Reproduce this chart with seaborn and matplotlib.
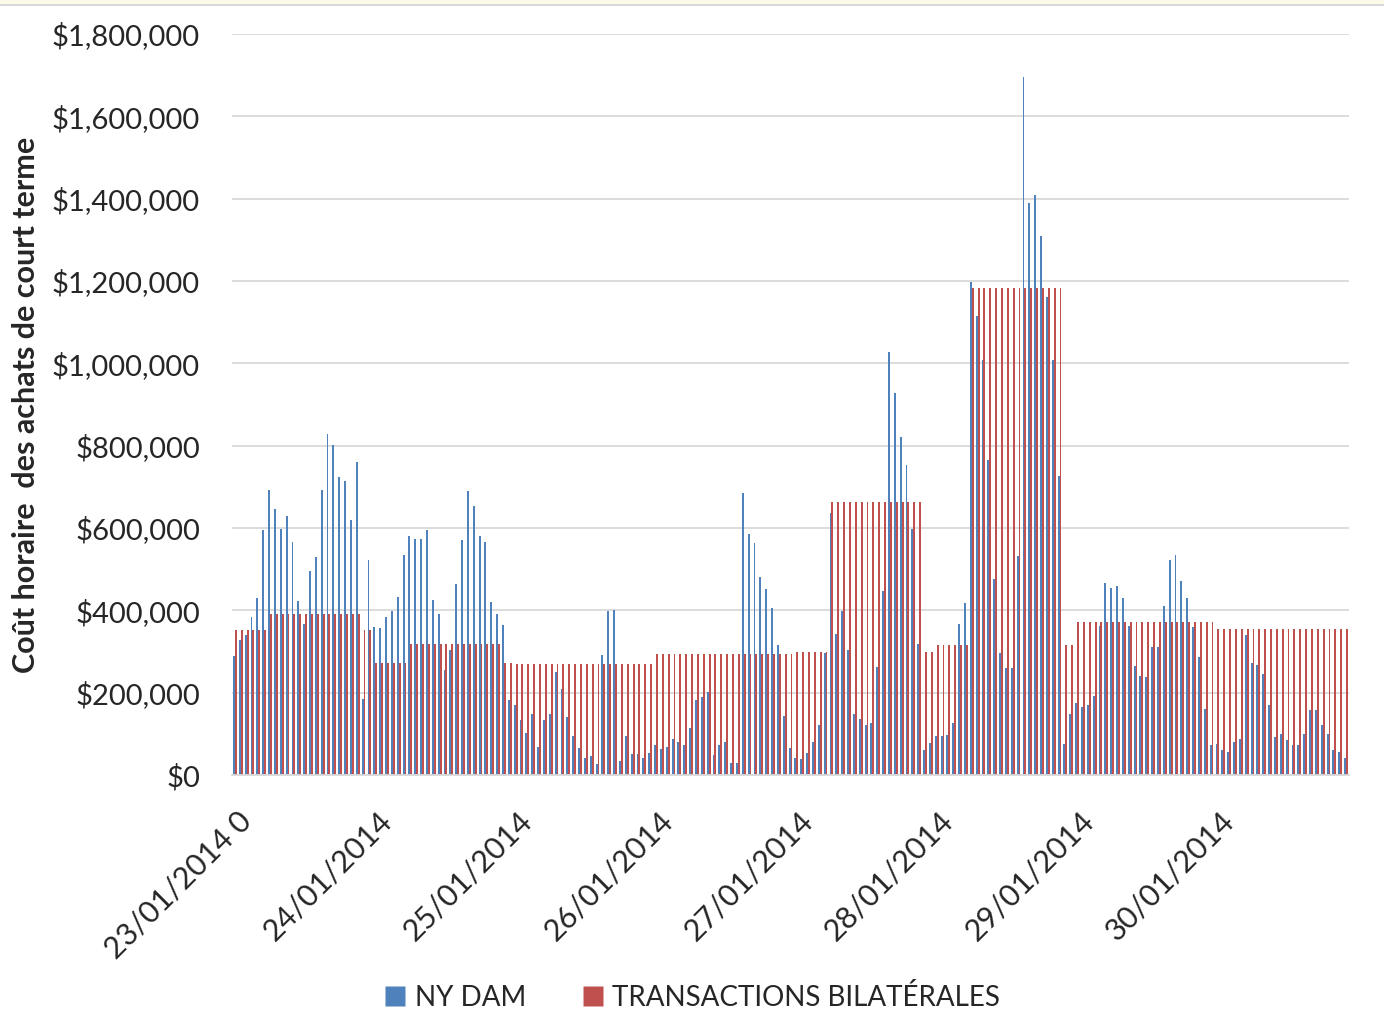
import pandas as pd
import seaborn as sns
import matplotlib.pyplot as plt
from matplotlib.ticker import FuncFormatter
from matplotlib.transforms import ScaledTranslation
from matplotlib.patches import Rectangle
from matplotlib.lines import Line2D

sns.set_style("white")
plt.rcParams['font.family'] = ['Lato', 'DejaVu Sans']

# coût horaire en milliers de $ (une valeur par heure, du 23/01 0h au 30/01 22h)
ny_dam = [
    288, 329, 340, 385, 431, 594, 692, 646, 598, 628, 567, 423, 367, 496, 530, 692, 828, 802, 725, 715, 620, 760, 185, 522,
    360, 356, 384, 398, 432, 535, 581, 573, 573, 596, 425, 391, 255, 304, 463, 570, 691, 653, 581, 566, 421, 391, 364, 182,
    171, 134, 101, 148, 68, 134, 148, 250, 209, 141, 95, 65, 41, 45, 27, 292, 398, 402, 34, 95, 50, 50, 41, 53,
    72, 64, 68, 87, 79, 72, 113, 182, 189, 201, 49, 72, 79, 30, 30, 684, 585, 563, 482, 452, 406, 315, 144, 65,
    41, 38, 53, 79, 121, 297, 637, 342, 398, 304, 148, 137, 121, 126, 262, 448, 1028, 927, 820, 752, 597, 318, 61, 78,
    94, 95, 97, 127, 367, 417, 1198, 1114, 1007, 764, 475, 296, 261, 261, 532, 1695, 1390, 1410, 1310, 1161, 1007, 726, 76, 148,
    175, 164, 169, 191, 363, 467, 455, 460, 429, 363, 264, 241, 237, 310, 310, 410, 522, 535, 471, 429, 359, 287, 161, 73,
    76, 61, 56, 80, 88, 340, 272, 267, 245, 169, 92, 100, 84, 73, 73, 100, 157, 157, 122, 100, 61, 56, 42,
]
bilaterales = [
    352, 352, 352, 352, 352, 352, 390, 390, 390, 390, 390, 390, 390, 390, 390, 390, 390, 390, 390, 390, 390, 390, 352, 352,
    273, 273, 273, 273, 273, 273, 319, 319, 319, 319, 319, 319, 319, 319, 319, 319, 319, 319, 319, 319, 319, 319, 273, 273,
    270, 270, 270, 270, 270, 270, 270, 270, 270, 270, 270, 270, 270, 270, 270, 270, 270, 270, 270, 270, 270, 270, 270, 270,
    293, 293, 293, 293, 293, 293, 293, 293, 293, 293, 293, 293, 293, 293, 293, 293, 293, 293, 293, 293, 293, 293, 293, 293,
    300, 300, 300, 300, 300, 300, 664, 664, 664, 664, 664, 664, 664, 664, 664, 664, 664, 664, 664, 664, 664, 664, 300, 300,
    317, 317, 317, 317, 317, 317, 1183, 1183, 1183, 1183, 1183, 1183, 1183, 1183, 1183, 1183, 1183, 1183, 1183, 1183, 1183, 1183, 317, 317,
    371, 371, 371, 371, 371, 371, 371, 371, 371, 371, 371, 371, 371, 371, 371, 371, 371, 371, 371, 371, 371, 371, 371, 371,
    355, 355, 355, 355, 355, 355, 355, 355, 355, 355, 355, 355, 355, 355, 355, 355, 355, 355, 355, 355, 355, 355, 355,
]
day_labels = ['23/01/2014 0', '24/01/2014', '25/01/2014', '26/01/2014',
              '27/01/2014', '28/01/2014', '29/01/2014', '30/01/2014']
series = ['NY DAM', 'TRANSACTIONS BILATÉRALES']
colors = ['#4F81BD', '#C0504D']

n = len(ny_dam)
df = pd.DataFrame({
    'heure': list(range(n)) * 2,
    'cout': [v * 1000 for v in ny_dam + bilaterales],
    'serie': [series[0]] * n + [series[1]] * n,
})

fig = plt.figure(figsize=(13.84, 10.30), dpi=100)
ax = fig.add_axes([232 / 1384, 1 - 775 / 1030, 1117 / 1384, 741 / 1030])

sns.barplot(data=df, x='heure', y='cout', hue='serie', palette=colors,
            width=0.65, dodge=True, saturation=1, linewidth=0, legend=False, ax=ax)

ax.set_ylim(0, 1800000)
ax.set_yticks(range(0, 1800001, 200000))
ax.yaxis.set_major_formatter(FuncFormatter(lambda v, p: '${:,.0f}'.format(v)))
ax.yaxis.grid(True, color='#D9D9D9', lw=1.3)
ax.set_axisbelow(True)
for s in ['top', 'right', 'left']:
    ax.spines[s].set_visible(False)
ax.spines['bottom'].set_color('#D9D9D9')
ax.spines['bottom'].set_linewidth(1.3)

ax.set_xticks(range(0, n, 24))
ax.set_xticklabels(day_labels, rotation=45, ha='right', va='center', rotation_mode='anchor')
ax.tick_params(axis='x', length=0, pad=30, labelsize=22)
ax.tick_params(axis='y', length=0, pad=23, labelsize=21)
offset = ScaledTranslation(12 / 100, 0, fig.dpi_scale_trans)
for lab in ax.get_xticklabels():
    lab.set_transform(lab.get_transform() + offset)

ax.set_xlabel('')
ax.set_ylabel('Coût horaire  des achats de court terme', fontsize=22, fontweight='bold')
ax.yaxis.set_label_coords(-0.172, 0.5)

handles = [Line2D([], [], linestyle='none', marker='s', markersize=14,
                  markerfacecolor=c, markeredgecolor='none') for c in colors]
fig.legend(handles, series, loc='center', bbox_to_anchor=(0.5, 1 - 997 / 1030), ncol=2,
           frameon=False, fontsize=20, handlelength=0.8, handletextpad=0.3,
           columnspacing=2.0)

# bande claire en haut de l'image
fig.patches.append(Rectangle((0, 1 - 5 / 1030), 1, 5 / 1030, transform=fig.transFigure,
                             facecolor='#FDFBE8', edgecolor='none'))
fig.add_artist(plt.Line2D([0, 1], [1 - 5 / 1030] * 2, transform=fig.transFigure,
                          color='#D9D9D9', lw=1.5))

fig.savefig('out.png', dpi=100)
